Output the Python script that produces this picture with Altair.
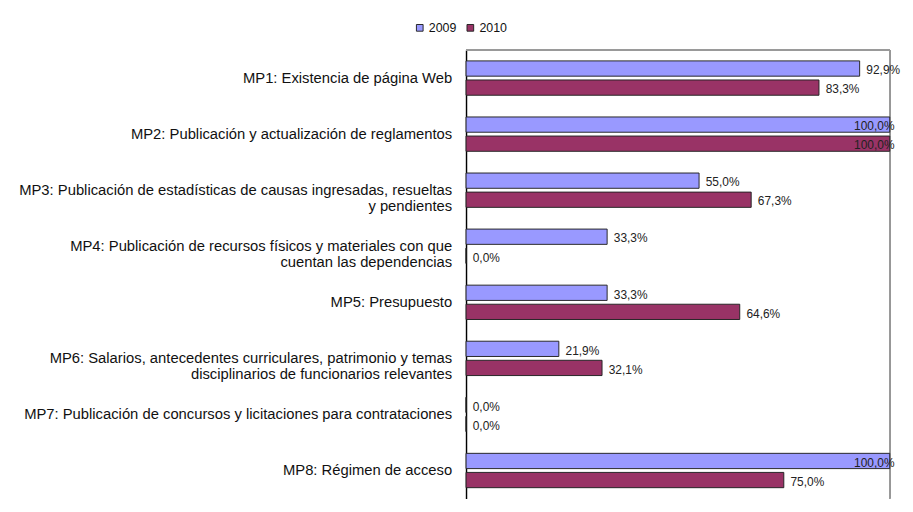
import altair as alt
import pandas as pd

categories = [
    "MP1: Existencia de página Web",
    "MP2: Publicación y actualización de reglamentos",
    "MP3: Publicación de estadísticas de causas ingresadas, resueltas\ny pendientes",
    "MP4: Publicación de recursos físicos y materiales con que\ncuentan las dependencias",
    "MP5: Presupuesto",
    "MP6: Salarios, antecedentes curriculares, patrimonio y temas\ndisciplinarios de funcionarios relevantes",
    "MP7: Publicación de concursos y licitaciones para contrataciones",
    "MP8: Régimen de acceso",
]
years = ["2009", "2010"]
values_2009 = [92.9, 100.0, 55.0, 33.3, 33.3, 21.9, 0.0, 100.0]
values_2010 = [83.3, 100.0, 67.3, 0.0, 64.6, 32.1, 0.0, 75.0]
colors = ["#9999FF", "#993366"]

rows = []
for c, a, b in zip(categories, values_2009, values_2010):
    rows.append({"cat": c, "year": years[0], "v": a})
    rows.append({"cat": c, "year": years[1], "v": b})
df = pd.DataFrame(rows)

FONT = "Liberation Sans"
W, H = 444, 470
BAR_H = 16
OFFS = {"2009": -10, "2010": 10}

y_axis = alt.Axis(
    title=None,
    labelExpr="split(datum.label, '\\n')",
    labelFont=FONT,
    labelFontSize=15.5,
    labelColor="#111",
    labelLineHeight=17,
    labelPadding=15,
    labelLimit=600,
    ticks=False,
    domainColor="#000",
    domainWidth=1.5,
    grid=False,
)
y_enc = alt.Y(
    "cat:N",
    sort=categories,
    scale=alt.Scale(paddingInner=0, paddingOuter=0),
    axis=y_axis,
)
x_enc = alt.X("v:Q", scale=alt.Scale(domain=[0, 100]), axis=None)

color_enc = alt.Color(
    "year:N",
    sort=years,
    scale=alt.Scale(domain=years, range=colors),
    legend=alt.Legend(
        title=None,
        orient="none",
        direction="horizontal",
        legendX=-55,
        legendY=-30,
        padding=0,
        symbolType="square",
        symbolSize=49,
        symbolStrokeColor="#222",
        symbolStrokeWidth=1,
        labelFont=FONT,
        labelFontSize=13,
        labelColor="#111",
        labelOffset=3,
        columnPadding=8,
    ),
)

base = alt.Chart(df).transform_calculate(
    lbl="replace(format(datum.v, '.1f'), '.', ',') + '%'"
)

layers = []
for yr in years:
    sub = base.transform_filter(alt.datum.year == yr)
    layers.append(
        sub.mark_bar(
            stroke="#222", strokeWidth=1, height=BAR_H, yOffset=OFFS[yr]
        ).encode(y=y_enc, x=x_enc, color=color_enc)
    )
    layers.append(
        sub.transform_filter("datum.v < 99.95").mark_text(
            align="left", baseline="middle", dx=7, dy=2, yOffset=OFFS[yr],
            font=FONT, fontSize=12.5, color="#222",
        ).encode(y=alt.Y("cat:N", sort=categories), x=x_enc, text="lbl:N")
    )
    layers.append(
        sub.transform_filter("datum.v >= 99.95").mark_text(
            align="right", baseline="middle", dx=5, dy=2, yOffset=OFFS[yr],
            font=FONT, fontSize=12.5, color="#222",
        ).encode(y=alt.Y("cat:N", sort=categories), x=x_enc, text="lbl:N")
    )

top_rule = base.mark_rule(color="#999", strokeWidth=1).encode(
    x=alt.value(0), x2=alt.value(W), y=alt.value(0)
)
right_rule = base.mark_rule(color="#999", strokeWidth=1).encode(
    x=alt.value(W), y=alt.value(0), y2=alt.value(H)
)

chart = (
    alt.layer(top_rule, right_rule, *layers)
    .properties(
        width=W,
        height=H,
        padding={"left": 10, "top": 2, "right": 5, "bottom": 0},
    )
    .configure_view(stroke=None)
)

chart.save("out.html", embed_options={"renderer": "svg", "actions": False})
